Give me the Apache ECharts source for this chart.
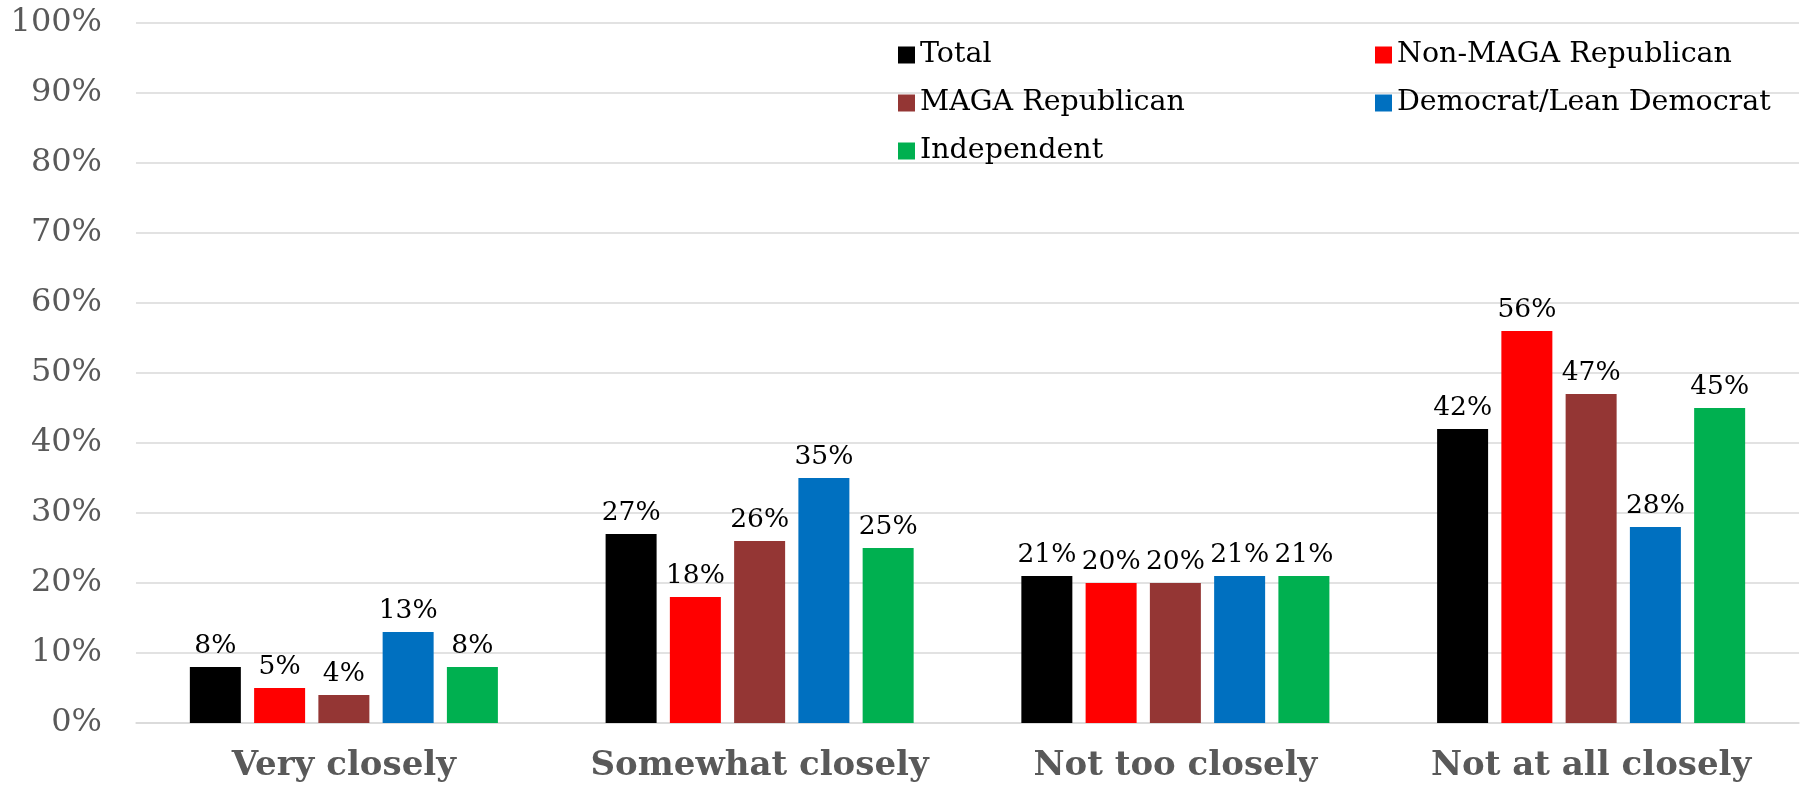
<!DOCTYPE html>
<html>
<head>
<meta charset="utf-8">
<script src="https://cdn.jsdelivr.net/npm/echarts@6/dist/echarts.min.js"></script>
<style>
html,body{margin:0;padding:0;background:#fff;}
#chart{width:1806px;height:789px;}
</style>
</head>
<body>
<div id="chart"></div>
<script>
const categories = ['Very closely', 'Somewhat closely', 'Not too closely', 'Not at all closely'];
const seriesNames = ['Total', 'Non-MAGA Republican', 'MAGA Republican', 'Democrat/Lean Democrat', 'Independent'];
const total = [8, 27, 21, 42];
const nonMaga = [5, 18, 20, 56];
const maga = [4, 26, 20, 47];
const democrat = [13, 35, 21, 28];
const independent = [8, 25, 21, 45];
const colors = ['#000000', '#FF0000', '#943634', '#0070C0', '#00B050'];

const FONT = 'Georgia, "DejaVu Serif", serif';
const values = [total, nonMaga, maga, democrat, independent];

const chart = echarts.init(document.getElementById('chart'));
const legendCommon = {
  orient: 'vertical',
  icon: 'rect',
  itemWidth: 17,
  itemHeight: 17,
  itemGap: 18,
  selectedMode: false,
  textStyle: { fontFamily: FONT, fontSize: 28.5, color: '#000', lineHeight: 30 }
};
chart.setOption({
  animation: false,
  color: colors,
  grid: { left: 136, right: 7, top: 23, bottom: 66, containLabel: false, outerBoundsMode: 'none' },
  legend: [
    Object.assign({}, legendCommon, { left: 893, top: 35, data: ['Total', 'MAGA Republican', 'Independent'] }),
    Object.assign({}, legendCommon, { left: 1370, top: 35, data: ['Non-MAGA Republican', 'Democrat/Lean Democrat'] })
  ],
  xAxis: {
    type: 'category',
    data: categories,
    axisLine: { show: true, lineStyle: { color: '#D9D9D9', width: 1.5 } },
    axisTick: { show: false },
    axisLabel: { interval: 0, hideOverlap: false, fontFamily: FONT, fontSize: 34, fontWeight: 'bold', color: '#595959', margin: 26 }
  },
  yAxis: {
    type: 'value',
    min: 0,
    max: 100,
    interval: 10,
    axisLine: { show: false },
    axisTick: { show: false },
    splitLine: { lineStyle: { color: '#D9D9D9', width: 1.5 } },
    axisLabel: { formatter: '{value}%', fontFamily: FONT, fontSize: 32, color: '#595959', margin: 34 }
  },
  series: seriesNames.map((name, i) => ({
    name: name,
    type: 'bar',
    data: values[i],
    barWidth: 51,
    barGap: '26%',
    itemStyle: { color: colors[i] },
    label: {
      show: true,
      position: 'top',
      distance: 7,
      formatter: '{c}%',
      fontFamily: FONT,
      fontSize: 26.5,
      color: '#000'
    }
  }))
});
</script>
</body>
</html>
